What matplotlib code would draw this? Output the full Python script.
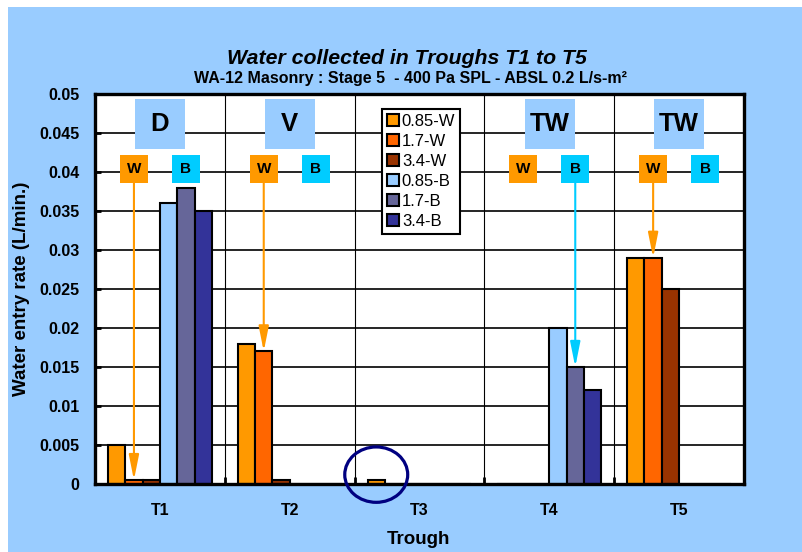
import numpy as np
import matplotlib
matplotlib.use('Agg')
import matplotlib.pyplot as plt
from matplotlib.patches import Rectangle, Ellipse
from matplotlib.ticker import FuncFormatter

plt.rcParams['font.family'] = ['Liberation Sans', 'DejaVu Sans']

# data
troughs = ['T1', 'T2', 'T3', 'T4', 'T5']
series = ['0.85-W', '1.7-W', '3.4-W', '0.85-B', '1.7-B', '3.4-B']
w085 = [0.005, 0.018, 0.0005, 0.0, 0.029]
w17 = [0.0005, 0.017, 0.0, 0.0, 0.029]
w34 = [0.0005, 0.0005, 0.0, 0.0, 0.025]
b085 = [0.036, 0.0, 0.0, 0.020, 0.0]
b17 = [0.038, 0.0, 0.0, 0.015, 0.0]
b34 = [0.035, 0.0, 0.0, 0.012, 0.0]
values = [w085, w17, w34, b085, b17, b34]
colors = ['#FF9900', '#FF6600', '#993300', '#99CCFF', '#666699', '#333399']

zone_labels = ['D', 'V', '', 'TW', 'TW']
# which marker ('W' or 'B') gets an arrow in each trough
arrow_from = ['W', 'W', None, 'B', 'W']

fig = plt.figure(figsize=(8.03, 5.52), dpi=100)
fig.patches.append(Rectangle((8/803, 0), 1, 1 - 7/552, transform=fig.transFigure,
                             facecolor='#99CCFF', edgecolor='none', zorder=-10))
ax = fig.add_axes([95/803, 68/552, 649/803, 390/552])
ax.set_facecolor('white')

x = np.arange(len(troughs))
bw = 0.8 / len(series)
for j, (name, vals) in enumerate(zip(series, values)):
    ax.bar(x + (j - 2.5) * bw, vals, bw, color=colors[j], edgecolor='black',
           linewidth=1.5, label=name, zorder=2)

ax.set_xlim(-0.5, len(troughs) - 0.5)
ax.set_ylim(0, 0.05)
ax.set_yticks(np.arange(0, 0.0501, 0.005))
ax.yaxis.set_major_formatter(FuncFormatter(lambda v, p: '%g' % round(v, 4)))
ax.set_xticks(x)
ax.set_xticklabels(troughs)
ax.set_xticks(x[:-1] + 0.5, minor=True)
ax.grid(axis='y', which='major', color='black', linewidth=1.2, zorder=0)
ax.grid(axis='x', which='minor', color='black', linewidth=0.8, zorder=0)
ax.set_axisbelow(True)
ax.tick_params(axis='x', which='major', length=0, pad=14)
ax.tick_params(axis='x', which='minor', direction='in', length=5, width=2)
ax.tick_params(axis='y', direction='in', length=4, width=2, pad=11)
for lab in ax.get_xticklabels() + ax.get_yticklabels():
    lab.set_fontweight('bold')
    lab.set_fontsize(11.5)
for s in ax.spines.values():
    s.set_linewidth(2.4)

# zone labels and W / B markers with arrows
for i in range(len(troughs)):
    if zone_labels[i]:
        ax.add_patch(Rectangle((i - 0.19, 0.0430), 0.385, 0.0064,
                               facecolor='#99CCFF', edgecolor='none', zorder=3))
        ax.text(i, 0.0461, zone_labels[i], ha='center', va='center',
                fontsize=18.5, fontweight='bold', zorder=4)
        for tag, j, c in [('W', 1, '#FF9900'), ('B', 4, '#00CCFF')]:
            xc = i + (j - 2.5) * bw
            ax.add_patch(Rectangle((xc - 0.107, 0.0386), 0.215, 0.0036,
                                   facecolor=c, edgecolor='none', zorder=3))
            ax.text(xc, 0.0404, tag, ha='center', va='center',
                    fontsize=11, fontweight='bold', zorder=4)
            if arrow_from[i] == tag:
                ax.annotate('', xy=(xc, values[j][i]), xytext=(xc, 0.0386),
                            arrowprops=dict(arrowstyle='-|>,head_length=1.5,head_width=0.3',
                                            color=c, lw=1.5, mutation_scale=10,
                                            shrinkA=0, shrinkB=0), zorder=5)

# circle round the small T3 value
ax.add_patch(Ellipse((2 - 2.5 * bw, w085[2] + 0.0007), 0.485, 0.0071, fill=False,
                     edgecolor='#000080', linewidth=2.3, clip_on=False, zorder=6))

leg = ax.legend(loc='upper left', bbox_to_anchor=(0.442, 0.962), fontsize=12,
                handlelength=0.7, handleheight=0.7, handletextpad=0.2,
                labelspacing=0.3, borderpad=0.3, borderaxespad=0,
                fancybox=False, framealpha=1, edgecolor='black')
leg.get_frame().set_linewidth(1.5)
leg.set_zorder(7)

fig.text(407/803, 1 - 59/552, 'Water collected in Troughs T1 to T5', ha='center',
         va='center', fontsize=15.3, fontweight='bold', fontstyle='italic')
fig.text(410/803, 1 - 78/552, 'WA-12 Masonry : Stage 5  - 400 Pa SPL - ABSL 0.2 L/s-m²',
         ha='center', va='center', fontsize=11.5, fontweight='bold')
fig.text(22/803, 1 - 289/552, 'Water entry rate (L/min.)', rotation=90, ha='center',
         va='center', fontsize=13.5, fontweight='bold')
fig.text(418/803, 1 - 540/552, 'Trough', ha='center', va='center',
         fontsize=13.5, fontweight='bold')

fig.savefig('out.png', dpi=100, facecolor='white')
